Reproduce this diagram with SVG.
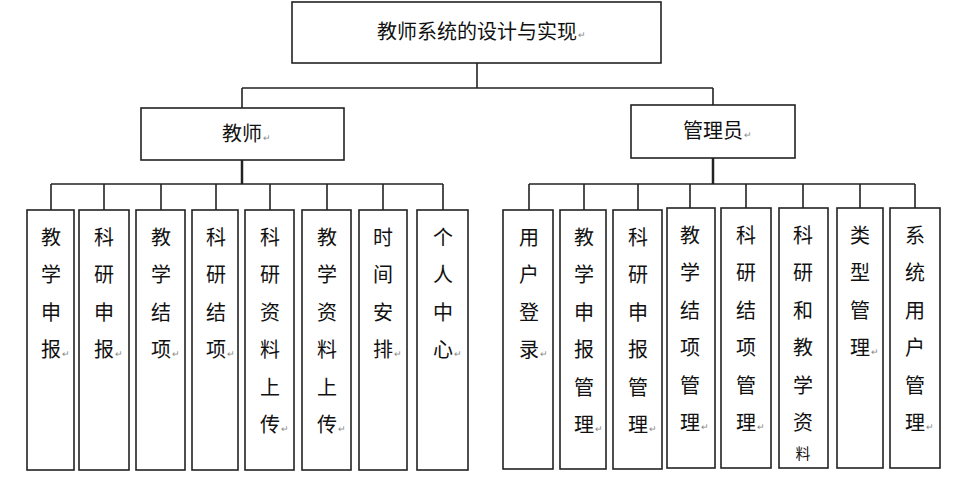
<svg xmlns="http://www.w3.org/2000/svg" width="957" height="485" viewBox="0 0 957 485">
<style>
rect{fill:#fff;stroke:#222;stroke-width:1.6}
.c line{stroke:#222;stroke-width:1.6}
text{font-family:"Noto Sans CJK SC","Noto Sans",sans-serif;font-size:20px;fill:#111;text-anchor:middle}
.r{font-size:9px;fill:#888;text-anchor:start}
</style>
<rect x="0" y="0" width="957" height="485" style="stroke:none"/>
<g class="c">
<line x1="477" y1="63" x2="477" y2="88"/><line x1="242" y1="88" x2="713" y2="88"/>
<line x1="242" y1="88" x2="242" y2="108"/><line x1="713" y1="88" x2="713" y2="105"/>
<line x1="242" y1="160" x2="242" y2="184" style="stroke-width:2.5"/><line x1="713" y1="158" x2="713" y2="184" style="stroke-width:2.5"/>
<line x1="51" y1="184" x2="443" y2="184"/><line x1="529" y1="184" x2="915" y2="184"/>
<line x1="51" y1="184" x2="51" y2="210"/><line x1="104" y1="184" x2="104" y2="210"/><line x1="161" y1="184" x2="161" y2="210"/><line x1="216" y1="184" x2="216" y2="210"/><line x1="270" y1="184" x2="270" y2="210"/><line x1="327" y1="184" x2="327" y2="210"/><line x1="383" y1="184" x2="383" y2="210"/><line x1="443" y1="184" x2="443" y2="210"/>
<line x1="529" y1="184" x2="529" y2="210"/><line x1="584" y1="184" x2="584" y2="210"/><line x1="638" y1="184" x2="638" y2="210"/><line x1="690" y1="184" x2="690" y2="208"/><line x1="746" y1="184" x2="746" y2="208"/><line x1="803" y1="184" x2="803" y2="208"/><line x1="860" y1="184" x2="860" y2="208"/><line x1="915" y1="184" x2="915" y2="208"/>
</g>
<g id="root"><rect x="292" y="2" width="369" height="61"/><text x="477" y="39">教师系统的设计与实现</text><text class="r" x="578" y="38">↵</text></g>
<g id="teacher"><rect x="141" y="108" width="203" height="52"/><text x="242" y="141">教师</text><text class="r" x="263" y="141">↵</text></g>
<g id="admin"><rect x="631" y="105" width="164" height="53"/><text x="713" y="138">管理员</text><text class="r" x="744" y="138">↵</text></g>
<g id="t1"><rect x="27" y="210" width="47" height="260"/><text x="51" y="245">教</text><text x="51" y="282">学</text><text x="51" y="320">申</text><text x="51" y="357">报</text><text class="r" x="62" y="357">↵</text></g>
<g id="t2"><rect x="79" y="210" width="50" height="260"/><text x="104" y="245">科</text><text x="104" y="282">研</text><text x="104" y="320">申</text><text x="104" y="357">报</text><text class="r" x="115" y="357">↵</text></g>
<g id="t3"><rect x="136" y="210" width="49" height="260"/><text x="161" y="245">教</text><text x="161" y="282">学</text><text x="161" y="320">结</text><text x="161" y="357">项</text><text class="r" x="172" y="357">↵</text></g>
<g id="t4"><rect x="192" y="210" width="46" height="260"/><text x="216" y="245">科</text><text x="216" y="282">研</text><text x="216" y="320">结</text><text x="216" y="357">项</text><text class="r" x="227" y="357">↵</text></g>
<g id="t5"><rect x="245" y="210" width="49" height="260"/><text x="270" y="245">科</text><text x="270" y="282">研</text><text x="270" y="320">资</text><text x="270" y="357">料</text><text x="270" y="395">上</text><text x="270" y="432">传</text><text class="r" x="281" y="432">↵</text></g>
<g id="t6"><rect x="302" y="210" width="49" height="260"/><text x="327" y="245">教</text><text x="327" y="282">学</text><text x="327" y="320">资</text><text x="327" y="357">料</text><text x="327" y="395">上</text><text x="327" y="432">传</text><text class="r" x="338" y="432">↵</text></g>
<g id="t7"><rect x="359" y="210" width="48" height="260"/><text x="383" y="245">时</text><text x="383" y="282">间</text><text x="383" y="320">安</text><text x="383" y="357">排</text><text class="r" x="394" y="357">↵</text></g>
<g id="t8"><rect x="417" y="210" width="51" height="260"/><text x="443" y="245">个</text><text x="443" y="282">人</text><text x="443" y="320">中</text><text x="443" y="357">心</text><text class="r" x="454" y="357">↵</text></g>
<g id="a1"><rect x="503" y="210" width="50" height="259"/><text x="529" y="245">用</text><text x="529" y="282">户</text><text x="529" y="320">登</text><text x="529" y="357">录</text><text class="r" x="540" y="357">↵</text></g>
<g id="a2"><rect x="560" y="210" width="46" height="259"/><text x="584" y="245">教</text><text x="584" y="282">学</text><text x="584" y="320">申</text><text x="584" y="357">报</text><text x="584" y="395">管</text><text x="584" y="432">理</text><text class="r" x="595" y="432">↵</text></g>
<g id="a3"><rect x="613" y="210" width="49" height="259"/><text x="638" y="245">科</text><text x="638" y="282">研</text><text x="638" y="320">申</text><text x="638" y="357">报</text><text x="638" y="395">管</text><text x="638" y="432">理</text><text class="r" x="649" y="432">↵</text></g>
<g id="a4"><rect x="667" y="208" width="48" height="260"/><text x="690" y="243">教</text><text x="690" y="280">学</text><text x="690" y="318">结</text><text x="690" y="355">项</text><text x="690" y="393">管</text><text x="690" y="430">理</text><text class="r" x="701" y="430">↵</text></g>
<g id="a5"><rect x="721" y="208" width="50" height="260"/><text x="746" y="243">科</text><text x="746" y="280">研</text><text x="746" y="318">结</text><text x="746" y="355">项</text><text x="746" y="393">管</text><text x="746" y="430">理</text><text class="r" x="757" y="430">↵</text></g>
<g id="a6"><rect x="779" y="208" width="49" height="260"/><text x="803" y="243">科</text><text x="803" y="280">研</text><text x="803" y="318">和</text><text x="803" y="355">教</text><text x="803" y="393">学</text><text x="803" y="430">资</text><text x="803" y="459" style="font-size:15px">料</text></g>
<g id="a7"><rect x="837" y="208" width="46" height="260"/><text x="860" y="243">类</text><text x="860" y="280">型</text><text x="860" y="318">管</text><text x="860" y="355">理</text><text class="r" x="871" y="355">↵</text></g>
<g id="a8"><rect x="890" y="208" width="50" height="260"/><text x="915" y="243">系</text><text x="915" y="280">统</text><text x="915" y="318">用</text><text x="915" y="355">户</text><text x="915" y="393">管</text><text x="915" y="430">理</text><text class="r" x="926" y="430">↵</text></g>
</svg>
